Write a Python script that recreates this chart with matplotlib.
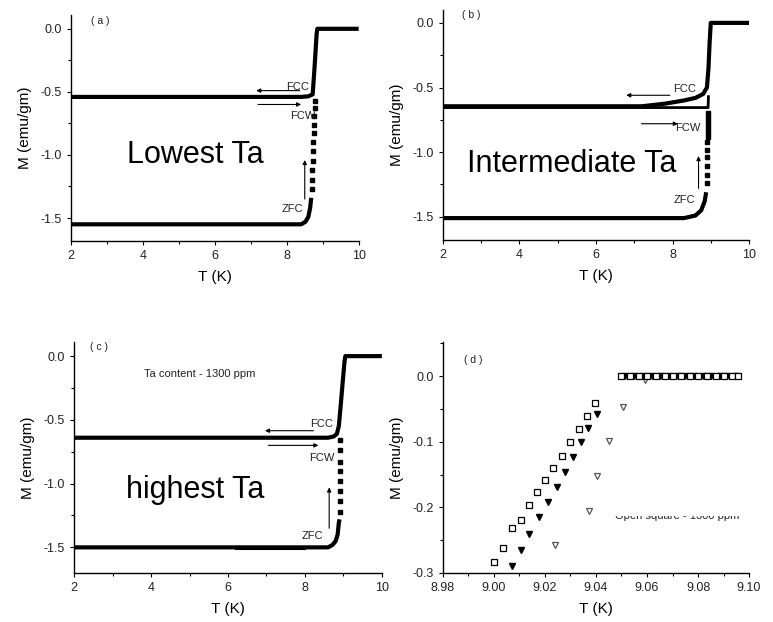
import matplotlib.pyplot as plt
from matplotlib.ticker import MultipleLocator
from matplotlib.patches import Rectangle

plt.rcParams['font.family'] = ['Liberation Sans', 'DejaVu Sans']
plt.rcParams['axes.unicode_minus'] = False

# (a) lowest Ta
fc_a_T = [2.0, 8.40, 8.60, 8.72, 8.76, 8.80, 8.83, 8.85, 10.0]
fc_a_M = [-0.54, -0.54, -0.535, -0.52, -0.36, -0.18, -0.04, 0.0, 0.0]
zfc_a_T = [2.0, 8.40, 8.52, 8.60, 8.65, 8.68]
zfc_a_M = [-1.55, -1.55, -1.53, -1.49, -1.42, -1.34]
zfc_a_step_T = [8.69, 8.70, 8.71, 8.72, 8.73, 8.74, 8.75, 8.76, 8.77, 8.78, 8.79]
zfc_a_step_M = [-1.27, -1.20, -1.12, -1.05, -0.97, -0.90, -0.83, -0.76, -0.69, -0.63, -0.57]

# (b) intermediate Ta
fcc_b_T = [2.0, 7.2, 7.8, 8.3, 8.6, 8.8, 8.9, 8.94, 8.97, 9.0, 10.0]
fcc_b_M = [-0.645, -0.645, -0.625, -0.60, -0.58, -0.55, -0.50, -0.35, -0.15, 0.0, 0.0]
fcw_b_T = [2.0, 8.93, 8.94]
fcw_b_M = [-0.655, -0.655, -0.56]
zfc_b_T = [2.0, 8.30, 8.60, 8.75, 8.84, 8.88]
zfc_b_M = [-1.51, -1.51, -1.49, -1.45, -1.38, -1.31]
zfc_b_step_T = [8.90, 8.90, 8.91, 8.91, 8.91, 8.91, 8.92, 8.92, 8.92, 8.92, 8.92, 8.92, 8.93]
zfc_b_step_M = [-1.24, -1.18, -1.11, -1.04, -0.98, -0.92, -0.88, -0.85, -0.82, -0.79, -0.76, -0.73, -0.70]

# (c) highest Ta
fc_c_T = [2.0, 8.60, 8.75, 8.83, 8.88, 8.92, 8.96, 9.00, 9.03, 9.05, 10.0]
fc_c_M = [-0.64, -0.64, -0.63, -0.61, -0.55, -0.42, -0.28, -0.14, -0.04, 0.0, 0.0]
zfc_c_T = [2.0, 8.60, 8.72, 8.80, 8.85, 8.88, 8.90]
zfc_c_M = [-1.50, -1.50, -1.48, -1.45, -1.40, -1.31, -1.28]
zfc_c_lo_T = [6.2, 8.0]
zfc_c_lo_M = [-1.515, -1.515]
zfc_c_step_T = [8.91, 8.91, 8.91, 8.91, 8.91, 8.91, 8.91, 8.91]
zfc_c_step_M = [-1.22, -1.14, -1.06, -0.98, -0.90, -0.83, -0.74, -0.66]

# (d) transition region
sq_T = [9.000, 9.0037, 9.0071, 9.0105, 9.0136, 9.0169, 9.0200, 9.0233, 9.0266,
        9.0298, 9.0332, 9.0365, 9.0397, 9.0500, 9.0535, 9.0570, 9.0600, 9.0635,
        9.0670, 9.0700, 9.0735, 9.0770, 9.0800, 9.0835, 9.0870, 9.0900, 9.0935, 9.0955]
sq_M = [-0.284, -0.262, -0.232, -0.219, -0.197, -0.177, -0.158, -0.140, -0.121,
        -0.101, -0.081, -0.061, -0.041, 0.0, 0.0, 0.0, 0.0, 0.0,
        0.0, 0.0, 0.0, 0.0, 0.0, 0.0, 0.0, 0.0, 0.0, 0.0]
tri_T = [9.0071, 9.0105, 9.0139, 9.0176, 9.0211, 9.0246, 9.0279, 9.0309, 9.0342,
         9.0370, 9.0403, 9.0515, 9.0550, 9.0585, 9.0620, 9.0650, 9.0685, 9.0720,
         9.0750, 9.0785, 9.0820, 9.0850, 9.0885, 9.0915, 9.0950]
tri_M = [-0.289, -0.265, -0.241, -0.215, -0.192, -0.169, -0.146, -0.123, -0.101,
         -0.079, -0.057, 0.0, 0.0, 0.0, 0.0, 0.0, 0.0, 0.0,
         0.0, 0.0, 0.0, 0.0, 0.0, 0.0, 0.0]
otri_T = [9.0240, 9.0373, 9.0403, 9.0451, 9.0507, 9.0592, 9.0660, 9.0720, 9.0770,
          9.0830, 9.0890, 9.0940]
otri_M = [-0.258, -0.205, -0.153, -0.099, -0.047, -0.006, 0.0, 0.0, 0.0,
          0.0, 0.0, 0.0]

fig = plt.figure(figsize=(7.73, 6.22), dpi=100)

ax_a = fig.add_axes([0.092, 0.613, 0.372, 0.363])
ax_b = fig.add_axes([0.573, 0.614, 0.396, 0.370])
ax_c = fig.add_axes([0.096, 0.079, 0.398, 0.371])
ax_d = fig.add_axes([0.573, 0.079, 0.396, 0.371])


def style(ax, xmaj, xmin, ymaj, ymin):
    for s in ['top', 'right']:
        ax.spines[s].set_visible(False)
    for s in ['left', 'bottom']:
        ax.spines[s].set_linewidth(1.0)
    ax.xaxis.set_major_locator(MultipleLocator(xmaj))
    ax.xaxis.set_minor_locator(MultipleLocator(xmin))
    ax.yaxis.set_major_locator(MultipleLocator(ymaj))
    ax.yaxis.set_minor_locator(MultipleLocator(ymin))
    ax.tick_params(which='major', direction='out', length=3, width=0.8,
                   labelsize=9, labelcolor='#222222')
    ax.tick_params(which='minor', direction='out', length=2, width=0.8)
    ax.set_xlabel('T (K)', fontsize=11, labelpad=6)
    ax.set_ylabel('M (emu/gm)', fontsize=11, labelpad=6)


def arrow(ax, x0, y0, x1, y1):
    ax.annotate('', xy=(x1, y1), xytext=(x0, y0),
                arrowprops=dict(arrowstyle='-|>', lw=0.8, color='black',
                                mutation_scale=6, shrinkA=0, shrinkB=0))


def small(ax, x, y, s, size=8):
    ax.text(x, y, s, fontsize=size, ha='center', va='center', color='#222222')


# panel (a)
ax_a.plot(fc_a_T, fc_a_M, color='black', lw=3, solid_capstyle='butt')
ax_a.plot(zfc_a_T, zfc_a_M, color='black', lw=3, solid_capstyle='butt')
ax_a.plot(zfc_a_step_T, zfc_a_step_M, 's', color='black', ms=2.6)
ax_a.set_xlim(2, 10)
ax_a.set_ylim(-1.68, 0.11)
style(ax_a, 2, 1, 0.5, 0.25)
small(ax_a, 2.8, 0.06, '( a )', 7.5)
ax_a.text(5.45, -1.0, 'Lowest Ta', fontsize=22, ha='center', va='center')
small(ax_a, 8.3, -0.46, 'FCC')
small(ax_a, 8.45, -0.69, 'FCW')
small(ax_a, 8.15, -1.43, 'ZFC')
arrow(ax_a, 8.36, -0.49, 7.15, -0.49)
arrow(ax_a, 7.2, -0.60, 8.4, -0.60)
arrow(ax_a, 8.5, -1.35, 8.5, -1.04)

# panel (b)
ax_b.plot(fcc_b_T, fcc_b_M, color='black', lw=3, solid_capstyle='butt')
ax_b.plot(fcw_b_T, fcw_b_M, color='black', lw=2, solid_capstyle='butt')
ax_b.plot(zfc_b_T, zfc_b_M, color='black', lw=3, solid_capstyle='butt')
ax_b.plot(zfc_b_step_T, zfc_b_step_M, 's', color='black', ms=2.3)
ax_b.set_xlim(2, 10)
ax_b.set_ylim(-1.68, 0.10)
style(ax_b, 2, 1, 0.5, 0.25)
small(ax_b, 2.75, 0.06, '( b )', 7.5)
ax_b.text(5.37, -1.09, 'Intermediate Ta', fontsize=22, ha='center', va='center')
small(ax_b, 8.32, -0.51, 'FCC')
small(ax_b, 8.4, -0.815, 'FCW')
small(ax_b, 8.32, -1.37, 'ZFC')
arrow(ax_b, 7.93, -0.56, 6.79, -0.56)
arrow(ax_b, 7.19, -0.78, 8.14, -0.78)
arrow(ax_b, 8.68, -1.28, 8.68, -1.03)

# panel (c)
ax_c.plot(fc_c_T, fc_c_M, color='black', lw=3, solid_capstyle='butt')
ax_c.plot(zfc_c_T, zfc_c_M, color='black', lw=3, solid_capstyle='butt')
ax_c.plot(zfc_c_lo_T, zfc_c_lo_M, color='black', lw=1.5)
ax_c.plot(zfc_c_step_T, zfc_c_step_M, 's', color='black', ms=2.6)
ax_c.set_xlim(2, 10)
ax_c.set_ylim(-1.70, 0.11)
style(ax_c, 2, 1, 0.5, 0.25)
small(ax_c, 2.65, 0.07, '( c )', 7.5)
small(ax_c, 5.25, -0.14, 'Ta content - 1300 ppm', 8)
ax_c.text(5.14, -1.05, 'highest Ta', fontsize=22, ha='center', va='center')
small(ax_c, 8.44, -0.53, 'FCC')
small(ax_c, 8.44, -0.80, 'FCW')
small(ax_c, 8.2, -1.41, 'ZFC')
arrow(ax_c, 8.22, -0.585, 6.96, -0.585)
arrow(ax_c, 7.05, -0.70, 8.35, -0.70)
arrow(ax_c, 8.63, -1.35, 8.63, -1.03)

# panel (d)
ax_d.plot(otri_T, otri_M, 'v', mfc='white', mec='#555555', ms=5, mew=0.9)
ax_d.plot(tri_T, tri_M, 'v', color='black', ms=5)
ax_d.plot(sq_T, sq_M, 's', mfc='white', mec='black', ms=4.5, mew=0.9)
ax_d.set_xlim(8.98, 9.10)
ax_d.set_ylim(-0.30, 0.052)
style(ax_d, 0.02, 0.01, 0.1, 0.05)
small(ax_d, 8.992, 0.024, '( d )', 7.5)
small(ax_d, 9.072, -0.214, 'Open square - 1300 ppm', 8)
# upper half of that label is hidden in the original
ax_d.add_patch(Rectangle((9.04, -0.214), 0.06, 0.012, facecolor='white',
                         edgecolor='none', zorder=5))

fig.savefig('out.png', dpi=100)
